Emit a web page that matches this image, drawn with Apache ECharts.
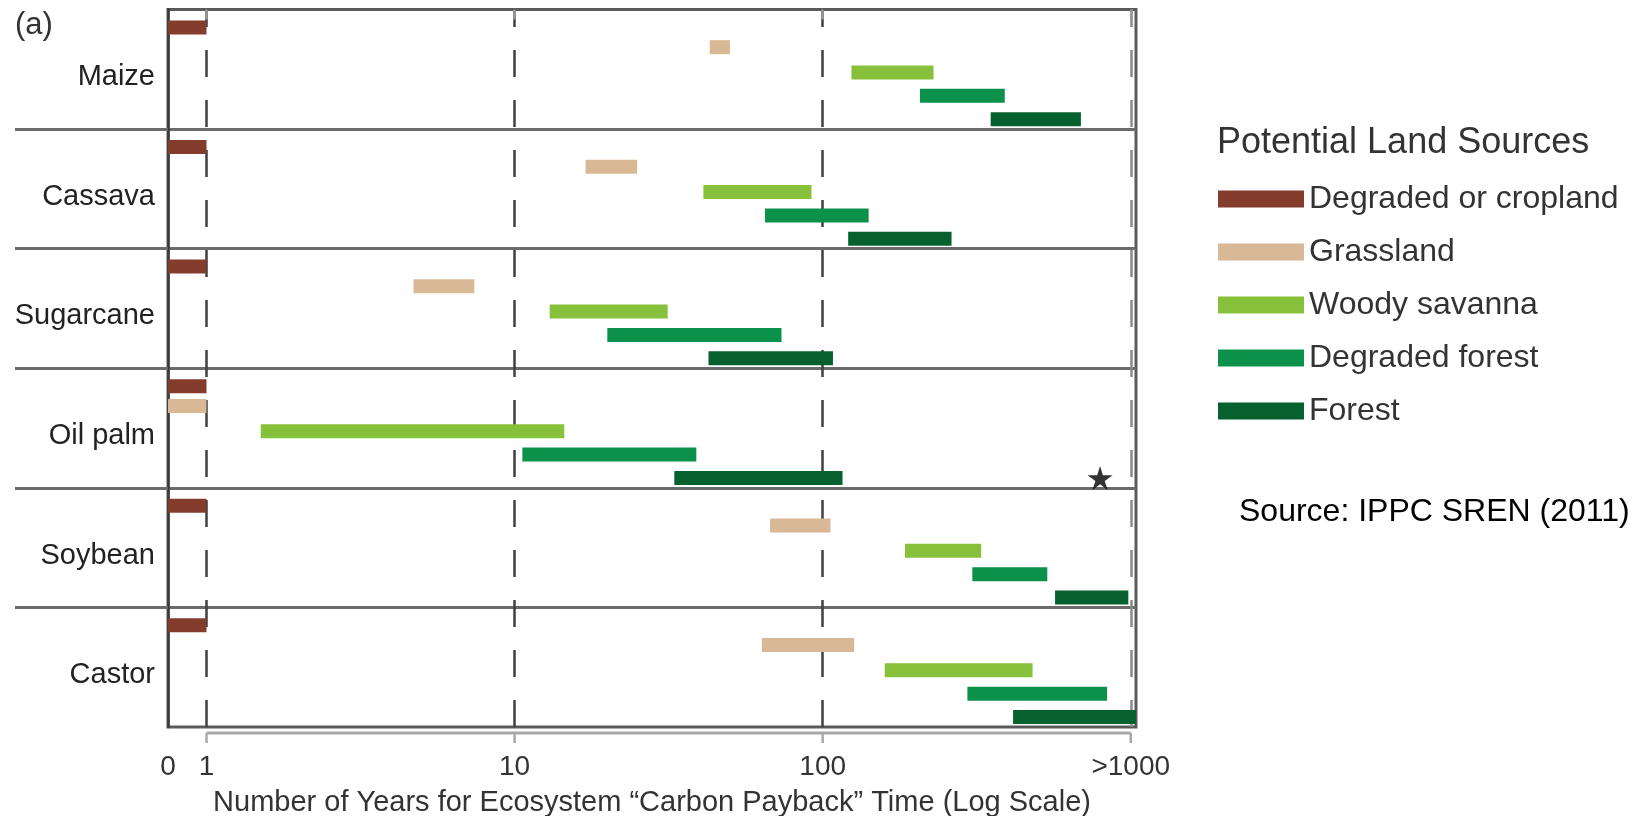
<!DOCTYPE html>
<html>
<head>
<meta charset="utf-8">
<title>Carbon payback time</title>
<script src="https://cdn.jsdelivr.net/npm/echarts@6/dist/echarts.min.js"></script>
<style>
  html, body { margin: 0; padding: 0; background: #fff; }
  #chart { width: 1642px; height: 816px; }
</style>
</head>
<body>
<div id="chart"></div>
<script>
// crops, top to bottom
const crops = ['Maize', 'Cassava', 'Sugarcane', 'Oil palm', 'Soybean', 'Castor']
const landSources = ['Degraded or cropland', 'Grassland', 'Woody savanna', 'Degraded forest', 'Forest']

// payback time in years [from, to], one pair per crop (0 = left edge "0")
const degradedCropland = [[0, 1], [0, 1], [0, 1], [0, 1], [0, 1], [0, 1]]
const grassland = [[43, 50], [17, 25], [4.7, 7.4], [0, 1], [67.5, 106], [63.5, 126.5]]
const woodySavanna = [[124, 229], [41, 92], [13, 31.4], [1.5, 14.5], [185, 327], [159, 480]]
const degradedForest = [[207, 390], [65, 141], [20, 73.5], [10.6, 38.9], [306, 536], [295, 838]]
const forest = [[351, 689], [121, 262], [42.6, 108], [33, 116], [568, 982], [415, 1040]]

// the asterisk on the oil palm / forest line
const notes = [{ crop: 'Oil palm', source: 'Forest', years: 795 }]

// x axis
const tickValues = [1, 10, 100, 1000]
const labelValues = [0.75, 1, 10, 100, 1000]
const labelTexts = ['0', '1', '10', '100', '>1000']

const X_MIN = 0.75
const X_MAX = 1040
const FONT = "'Liberation Sans', Arial, sans-serif"
const colors = ['#843c2d', '#d9b895', '#87c13b', '#0b914a', '#07612f']
const slots = [0.15, 0.315, 0.526, 0.722, 0.917] // where each source sits inside a crop row
const BAR_H = 14
const AXIS_OFFSET = 6
const TICK_LEN = 10
const STAR = 'path://M50,0 L61,35 L98,35 L68,57 L79,91 L50,70 L21,91 L32,57 L2,35 L39,35 Z'

const ranges = [degradedCropland, grassland, woodySavanna, degradedForest, forest]

const barSeries = landSources.map((name, k) => ({
  name: name,
  type: 'custom',
  itemStyle: { color: colors[k] },
  encode: { x: [0, 1], y: 2 },
  data: ranges[k].map((r, i) => [Math.max(r[0], X_MIN), r[1], i]),
  renderItem: function (params, api) {
    const y = api.value(2) + slots[k]
    const p0 = api.coord([api.value(0), y])
    const p1 = api.coord([api.value(1), y])
    return {
      type: 'rect',
      shape: { x: p0[0], y: p0[1] - BAR_H / 2, width: p1[0] - p0[0], height: BAR_H },
      style: { fill: api.visual('color') }
    }
  }
}))

const starSeries = {
  type: 'scatter',
  silent: true,
  symbol: STAR,
  symbolSize: [25, 24],
  itemStyle: { color: '#000' },
  data: notes.map(n => [n.years, crops.indexOf(n.crop) + slots[landSources.indexOf(n.source)]])
}

const chart = echarts.init(document.getElementById('chart'))

chart.setOption({
  animation: false,
  backgroundColor: '#fff',
  title: [
    { text: '(a)', left: 15, top: 10, padding: 0, textStyle: { fontFamily: FONT, fontSize: 31, fontWeight: 'normal', color: '#333' } },
    { text: 'Potential Land Sources', left: 1217, top: 125, padding: 0, textStyle: { fontFamily: FONT, fontSize: 36, fontWeight: 'normal', color: '#333' } },
    { text: 'Source: IPPC SREN (2011)', left: 1239, top: 496, padding: 0, textStyle: { fontFamily: FONT, fontSize: 32, fontWeight: 'normal', color: '#000' } }
  ],
  legend: {
    orient: 'vertical',
    left: 1218,
    top: 183,
    padding: 0,
    itemWidth: 86,
    itemHeight: 17,
    itemGap: 21,
    icon: 'rect',
    selectedMode: false,
    textStyle: { fontFamily: FONT, fontSize: 32, lineHeight: 32, color: '#333' },
    data: landSources
  },
  grid: {
    left: 168,
    top: 9.5,
    width: 968,
    height: 717.5,
    containLabel: false,
    outerBoundsMode: 'none',
    show: true,
    borderColor: '#5a5a5a',
    borderWidth: 3
  },
  xAxis: {
    type: 'log',
    logBase: 10,
    min: X_MIN,
    max: X_MAX,
    position: 'bottom',
    offset: AXIS_OFFSET,
    axisLine: { show: true, lineStyle: { color: 'rgba(0,0,0,0)', width: 0 } },
    axisTick: { show: true, inside: false, customValues: tickValues, length: TICK_LEN, lineStyle: { color: '#999', width: 2.5 } },
    axisLabel: {
      customValues: labelValues,
      margin: 20,
      fontFamily: FONT,
      fontSize: 28,
      color: '#333',
      formatter: v => labelTexts[labelValues.indexOf(v)]
    },
    splitLine: {
      show: true,
      lineStyle: { color: ['#404040', '#404040', '#404040', '#8a8a8a'], width: 2.5, type: [27, 23], dashOffset: 9.5 }
    },
    name: 'Number of Years for Ecosystem \u201cCarbon Payback\u201d Time (Log Scale)',
    nameLocation: 'middle',
    nameGap: 55,
    nameMoveOverlap: false,
    nameTextStyle: { fontFamily: FONT, fontSize: 29, color: '#333' }
  },
  yAxis: {
    type: 'value',
    min: 0,
    max: crops.length,
    inverse: true,
    axisLine: { show: true, lineStyle: { color: '#3a3a3a', width: 2.5 } },
    axisTick: { show: true, customValues: [1, 2, 3, 4, 5], length: 153, lineStyle: { color: '#6b6b6b', width: 3 } },
    splitLine: { show: true, lineStyle: { color: '#6b6b6b', width: 3 } },
    axisLabel: {
      customValues: crops.map((c, i) => i + 0.5),
      margin: 13,
      formatter: v => '{n|' + crops[Math.floor(v)] + '}',
      rich: {
        n: { fontFamily: FONT, fontSize: 29, color: '#222', padding: [16, 0, 0, 0] }
      }
    }
  },
  series: barSeries.concat([starSeries])
})

// grey base line under the plot, running from 1 to 1000 only, with ticks hanging down
const bx1 = chart.convertToPixel({ xAxisIndex: 0 }, 1)
const bx2 = chart.convertToPixel({ xAxisIndex: 0 }, 1000)
const by = chart.convertToPixel({ yAxisIndex: 0 }, crops.length) + AXIS_OFFSET
const graphics = [{
  type: 'line',
  silent: true,
  shape: { x1: bx1, y1: by, x2: bx2, y2: by },
  style: { stroke: '#a9a9a9', lineWidth: 3 }
}]
tickValues.forEach(v => {
  const tx = chart.convertToPixel({ xAxisIndex: 0 }, v)
  graphics.push({
    type: 'line',
    silent: true,
    shape: { x1: tx, y1: by, x2: tx, y2: by + TICK_LEN },
    style: { stroke: '#a9a9a9', lineWidth: 2.5 }
  })
})
chart.setOption({ graphic: graphics })
</script>
</body>
</html>
